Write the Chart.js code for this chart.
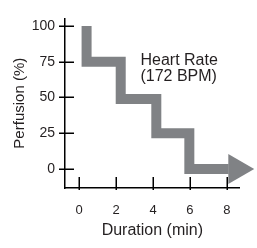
<!DOCTYPE html>
<html><head><meta charset="utf-8">
<script src="https://cdn.jsdelivr.net/npm/chart.js@4/dist/chart.umd.min.js"></script>
<style>html,body{margin:0;padding:0;background:#fff;overflow:hidden}#wrap{width:257px;height:248px;position:relative}</style>
</head><body><div id="wrap"><canvas id="c"></canvas></div>
<script>
// ---- data ----
const stepDuration = [0.4, 0.4, 2.25, 2.25, 4.18, 4.18, 5.97, 5.97, 8.1];
const stepPerfusion = [100, 75, 75, 49, 49, 25, 25, 0, 0];
const arrowDuration = [8.55];
const arrowPerfusion = [0];
const xTickValues = [0, 2, 4, 6, 8];
const yTickValues = [0, 25, 50, 75, 100];
const annotationLines = ['Heart Rate', '(172 BPM)'];
const annotationAt = [3.32, 75.7];
const xTitle = 'Duration (min)';
const yTitle = 'Perfusion (%)';

const FONT = '"Liberation Sans", Arial, sans-serif';
const GRAY = '#808285';
const INK = '#231f20';

const tickMarks = {
  id: 'tickMarks',
  afterDatasetsDraw(chart) {
    const {ctx, scales: {x, y}, chartArea} = chart;
    ctx.save();
    ctx.strokeStyle = '#000';
    ctx.lineWidth = 1.5;
    yTickValues.forEach(v => {
      const py = Math.round(y.getPixelForValue(v)) + 0.25;
      ctx.beginPath(); ctx.moveTo(chartArea.left - 6, py); ctx.lineTo(chartArea.left + 9, py); ctx.stroke();
    });
    xTickValues.forEach(v => {
      const px = Math.round(x.getPixelForValue(v)) + 0.25;
      ctx.beginPath(); ctx.moveTo(px, chartArea.bottom + 2); ctx.lineTo(px, chartArea.bottom - 11); ctx.stroke();
    });
    ctx.fillStyle = INK;
    ctx.font = '16px ' + FONT;
    ctx.textAlign = 'left';
    ctx.textBaseline = 'middle';
    const ax = x.getPixelForValue(annotationAt[0]);
    const ay = y.getPixelForValue(annotationAt[1]);
    annotationLines.forEach((t, i) => ctx.fillText(t, ax, ay + i * 15.5));
    ctx.restore();
  }
};

new Chart(document.getElementById('c'), {
  type: 'line',
  data: {
    datasets: [{
      data: stepDuration.map((d, i) => ({x: d, y: stepPerfusion[i]})),
      borderColor: GRAY,
      borderWidth: 10,
      borderCapStyle: 'butt',
      borderJoinStyle: 'miter',
      pointRadius: 0,
      tension: 0,
      fill: false,
      clip: false
    }, {
      data: arrowDuration.map((d, i) => ({x: d, y: arrowPerfusion[i]})),
      showLine: false,
      pointStyle: 'triangle',
      rotation: 90,
      pointRadius: 17.3,
      pointBackgroundColor: GRAY,
      pointBorderWidth: 0,
      pointBorderColor: GRAY,
      clip: false
    }]
  },
  options: {
    responsive: true,
    maintainAspectRatio: false,
    animation: false,
    events: [],
    layout: {padding: {top: 10, right: 14, bottom: 0, left: 0}},
    plugins: {legend: {display: false}, tooltip: {enabled: false}},
    scales: {
      x: {
        type: 'linear',
        min: -0.77, max: 8.7,
        afterBuildTicks: s => { s.ticks = xTickValues.map(v => ({value: v})); },
        afterFit: s => { s.height = 60; },
        grid: {display: false, drawTicks: false, tickLength: 0},
        border: {display: true, color: '#000', width: 1.5},
        ticks: {color: INK, font: {size: 13, family: FONT}, padding: 15, maxRotation: 0, autoSkip: false},
        title: {display: true, text: xTitle, color: INK, font: {size: 16, family: FONT}, padding: {top: 0, bottom: 8}}
      },
      y: {
        min: -13.3, max: 105.3,
        afterBuildTicks: s => { s.ticks = yTickValues.map(v => ({value: v})); },
        afterFit: s => { s.width = 65; },
        grid: {display: false, drawTicks: false, tickLength: 0},
        border: {display: true, color: '#000', width: 1.5},
        ticks: {color: INK, font: {size: 14, family: FONT}, padding: 10, autoSkip: false},
        title: {display: true, text: yTitle, color: INK, font: {size: 15, family: FONT}, padding: {top: 11, bottom: 0}}
      }
    }
  },
  plugins: [tickMarks]
});
</script>
</body></html>
